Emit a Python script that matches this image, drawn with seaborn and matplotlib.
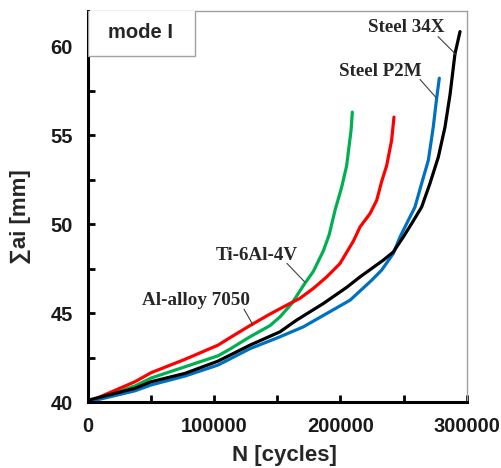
import matplotlib
matplotlib.use("Agg")
import matplotlib.pyplot as plt
import seaborn as sns
import pandas as pd
from matplotlib.patches import Rectangle
from matplotlib.ticker import MultipleLocator

# ---- data ----
series_names = ["Ti-6Al-4V", "Al-alloy 7050", "Steel P2M", "Steel 34X"]

ti_N = [0, 37200, 50000, 72900, 103000, 112500, 128300, 144200, 152100, 161400, 170600,
        178500, 186400, 191000, 195700, 201000, 204900, 207000, 208400, 209400]
ti_a = [40.0, 40.90, 41.35, 41.89, 42.6, 42.98, 43.67, 44.3, 44.79, 45.54, 46.55,
        47.35, 48.5, 49.4, 50.79, 52.1, 53.3, 54.5, 55.3, 56.31]

al_N = [0, 37200, 50000, 76800, 103000, 112500, 128300, 144200, 157400, 167800, 178500,
        189100, 199600, 210200, 215500, 223400, 228700, 232600, 236600, 240500, 242400]
al_a = [40.0, 41.14, 41.65, 42.40, 43.2, 43.62, 44.3, 44.95, 45.45, 45.83, 46.39,
        47.04, 47.79, 49.05, 49.85, 50.6, 51.35, 52.4, 53.3, 54.72, 56.03]

p2m_N = [0, 37200, 50000, 76800, 103000, 128300, 152100, 170600, 189100, 207600, 224700,
         232600, 241800, 247200, 253700, 259000, 264300, 269600, 273500, 276200, 278300]
p2m_a = [40.0, 40.63, 40.96, 41.46, 42.08, 43.0, 43.67, 44.23, 44.98, 45.73, 46.85,
         47.42, 48.35, 49.29, 50.22, 50.97, 52.3, 53.6, 55.47, 57.1, 58.22]

s34_N = [0, 37200, 50000, 76800, 103000, 128300, 152100, 165300, 186400, 204900, 215500,
         224700, 233900, 241800, 249800, 256400, 264300, 270900, 277500, 282800, 286800,
         290700, 294700]
s34_a = [40.1, 40.77, 41.14, 41.61, 42.3, 43.2, 43.95, 44.61, 45.54, 46.45, 47.04,
         47.51, 47.98, 48.44, 49.29, 50.04, 50.97, 52.3, 53.78, 55.47, 57.3,
         59.59, 60.84]

colors = {"Ti-6Al-4V": "#00b050", "Al-alloy 7050": "#ff0000",
          "Steel P2M": "#0070c0", "Steel 34X": "#000000"}

x_ticks = [0, 100000, 200000, 300000]
y_ticks = [40, 45, 50, 55, 60]

rows = []
for name, N, a in [("Ti-6Al-4V", ti_N, ti_a), ("Al-alloy 7050", al_N, al_a),
                   ("Steel P2M", p2m_N, p2m_a), ("Steel 34X", s34_N, s34_a)]:
    for n, v in zip(N, a):
        rows.append({"N": n, "a": v, "material": name})
df = pd.DataFrame(rows)

sns.set_theme(style="white")
plt.rcParams["font.family"] = ["Liberation Sans", "DejaVu Sans"]

fig = plt.figure(figsize=(5.02, 4.68), dpi=100)
ax = fig.add_axes([0.1753, 0.141, 0.7544, 0.8355])

sns.lineplot(data=df, x="N", y="a", hue="material", palette=colors,
             hue_order=series_names, estimator=None, sort=False,
             linewidth=2.3, legend=False, ax=ax)
for ln in ax.lines:
    ln.set_solid_joinstyle("round")
    ln.set_solid_capstyle("round")

ax.set_xlim(0, 300000)
ax.set_ylim(40, 62)
ax.set_xticks(x_ticks)
ax.set_xticklabels([str(t) for t in x_ticks])
ax.set_yticks(y_ticks)
ax.set_yticklabels([str(t) for t in y_ticks])
ax.xaxis.set_minor_locator(MultipleLocator(50000))
ax.yaxis.set_minor_locator(MultipleLocator(2.5))

ax.tick_params(axis="both", which="both", direction="in", length=5, width=2,
               color="black", bottom=True, left=True, top=False, right=False)
ax.tick_params(axis="x", which="major", pad=11, labelsize=14.5)
ax.tick_params(axis="y", which="major", pad=11, labelsize=14.5)
for lab in ax.get_xticklabels() + ax.get_yticklabels():
    lab.set_fontweight("bold")
    lab.set_color("#1a1a1a")

for side in ["left", "bottom"]:
    ax.spines[side].set_color("black")
    ax.spines[side].set_linewidth(2.2)
for side in ["top", "right"]:
    ax.spines[side].set_color("#a0a0a0")
    ax.spines[side].set_linewidth(1.0)

ax.set_xlabel("N [cycles]", fontsize=16, fontweight="bold")
ax.set_ylabel("∑ai [mm]", fontsize=16, fontweight="bold")
ax.xaxis.set_label_coords(0.52, -0.11)
ax.yaxis.set_label_coords(-0.15, 0.475)

# mode I box
ax.add_patch(Rectangle((0, 0.885), 0.283, 0.2, transform=ax.transAxes,
                       facecolor="white", edgecolor="#a0a0a0", lw=1.0,
                       clip_on=True, zorder=5))
ax.text(0.138, 0.944, "mode I", transform=ax.transAxes, ha="center", va="center",
        fontsize=14.5, fontweight="bold", zorder=6)

serif = ["Liberation Serif", "DejaVu Serif"]
labels = [
    ("Steel 34X", (282500, 61.07), (277300, 60.56), (291500, 59.55)),
    ("Steel P2M", (264000, 58.6), (263000, 58.15), (275700, 57.13)),
    ("Ti-6Al-4V", (166000, 48.26), (157600, 47.8), (171900, 46.74)),
    ("Al-alloy 7050", (128000, 45.73), (123600, 45.22), (130700, 44.33)),
]
for text, tpos, lstart, lend in labels:
    ax.text(tpos[0], tpos[1], text, ha="right", va="center", fontsize=13.7,
            fontweight="bold", family=serif, zorder=6)
    ax.annotate("", xy=lend, xytext=lstart,
                arrowprops=dict(arrowstyle="-", color="#404040", lw=0.8,
                                shrinkA=0, shrinkB=0))

fig.savefig("out.png", dpi=100)
